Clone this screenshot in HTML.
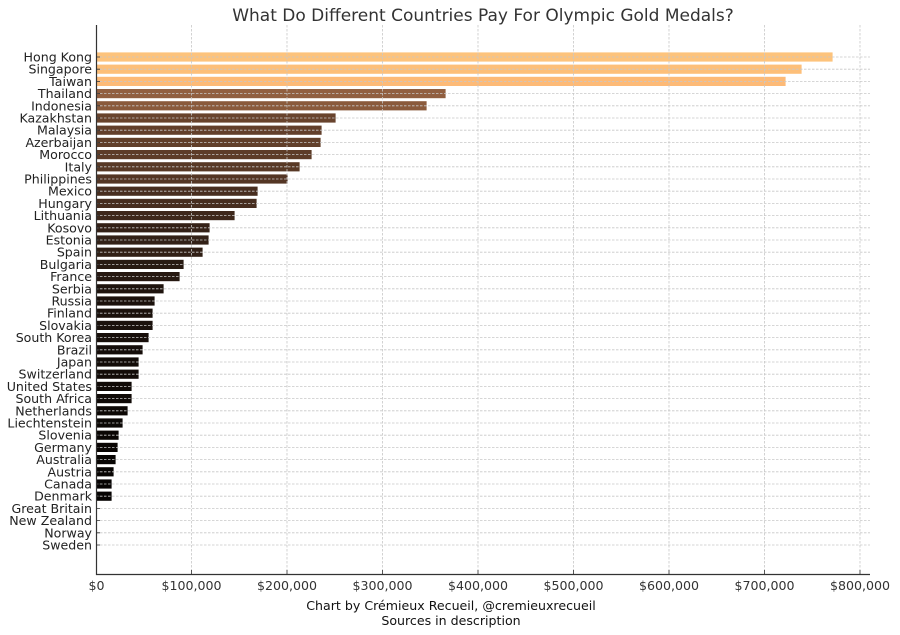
<!DOCTYPE html>
<html><head><meta charset="utf-8"><style>
html,body{margin:0;padding:0;background:#fff}
svg{display:block;font-family:"DejaVu Sans","Liberation Sans",sans-serif}
</style></head><body>
<svg width="900" height="635" viewBox="0 0 900 635">
<rect width="900" height="635" fill="#fff"/>
<text x="483" y="21" font-size="17" fill="#333" text-anchor="middle">What Do Different Countries Pay For Olympic Gold Medals?</text>
<g stroke="#fff" stroke-width="0.8">
<rect x="96" y="52" width="737" height="10" fill="rgb(253,195,124)"/>
<rect x="96" y="64.2" width="706" height="10" fill="rgb(253,191,121)"/>
<rect x="96" y="76.4" width="690" height="10" fill="rgb(253,186,119)"/>
<rect x="96" y="88.6" width="350" height="10" fill="rgb(145,95,64)"/>
<rect x="96" y="100.8" width="331" height="10" fill="rgb(138,90,60)"/>
<rect x="96" y="113" width="240" height="10" fill="rgb(104,67,45)"/>
<rect x="96" y="125.2" width="226" height="10" fill="rgb(98,63,43)"/>
<rect x="96" y="137.4" width="225" height="10" fill="rgb(97,63,42)"/>
<rect x="96" y="149.6" width="216" height="10" fill="rgb(93,60,40)"/>
<rect x="96" y="161.8" width="204" height="10" fill="rgb(88,57,38)"/>
<rect x="96" y="174" width="192" height="10" fill="rgb(84,54,37)"/>
<rect x="96" y="186.2" width="162" height="10" fill="rgb(72,46,32)"/>
<rect x="96" y="198.4" width="161" height="10" fill="rgb(71,46,32)"/>
<rect x="96" y="210.6" width="139" height="10" fill="rgb(62,40,28)"/>
<rect x="96" y="222.8" width="114" height="10" fill="rgb(52,33,23)"/>
<rect x="96" y="235" width="113" height="10" fill="rgb(51,33,23)"/>
<rect x="96" y="247.2" width="107" height="10" fill="rgb(48,31,21)"/>
<rect x="96" y="259.4" width="88" height="10" fill="rgb(40,26,18)"/>
<rect x="96" y="271.6" width="84" height="10" fill="rgb(38,24,17)"/>
<rect x="96" y="283.8" width="68" height="10" fill="rgb(31,20,14)"/>
<rect x="96" y="296" width="59" height="10" fill="rgb(27,17,12)"/>
<rect x="96" y="308.2" width="57" height="10" fill="rgb(26,17,12)"/>
<rect x="96" y="320.4" width="57" height="10" fill="rgb(26,17,12)"/>
<rect x="96" y="332.6" width="53" height="10" fill="rgb(24,15,10)"/>
<rect x="96" y="344.8" width="47" height="10" fill="rgb(21,13,9)"/>
<rect x="96" y="357" width="43" height="10" fill="rgb(19,12,8)"/>
<rect x="96" y="369.2" width="43" height="10" fill="rgb(19,12,8)"/>
<rect x="96" y="381.4" width="36" height="10" fill="rgb(16,10,7)"/>
<rect x="96" y="393.6" width="36" height="10" fill="rgb(16,10,7)"/>
<rect x="96" y="405.8" width="32" height="10" fill="rgb(14,9,6)"/>
<rect x="96" y="418" width="27" height="10" fill="rgb(12,8,5)"/>
<rect x="96" y="430.2" width="23" height="10" fill="rgb(10,6,4)"/>
<rect x="96" y="442.4" width="22" height="10" fill="rgb(10,6,4)"/>
<rect x="96" y="454.6" width="20" height="10" fill="rgb(9,6,4)"/>
<rect x="96" y="466.8" width="18" height="10" fill="rgb(8,5,3)"/>
<rect x="96" y="479" width="16" height="10" fill="rgb(7,4,3)"/>
<rect x="96" y="491.2" width="16" height="10" fill="rgb(7,4,3)"/>
</g>
<g stroke="#c8c8c8" stroke-width="0.8" stroke-dasharray="2.5,1.5" fill="none">
<path d="M191.5 25V574M287 25V574M382.5 25V574M478 25V574M573.5 25V574M669 25V574M764.5 25V574M860 25V574"/>
<path d="M96 57H870M96 69.2H870M96 81.4H870M96 93.6H870M96 105.8H870M96 118H870M96 130.2H870M96 142.4H870M96 154.6H870M96 166.8H870M96 179H870M96 191.2H870M96 203.4H870M96 215.6H870M96 227.8H870M96 240H870M96 252.2H870M96 264.4H870M96 276.6H870M96 288.8H870M96 301H870M96 313.2H870M96 325.4H870M96 337.6H870M96 349.8H870M96 362H870M96 374.2H870M96 386.4H870M96 398.6H870M96 410.8H870M96 423H870M96 435.2H870M96 447.4H870M96 459.6H870M96 471.8H870M96 484H870M96 496.2H870M96 508.4H870M96 520.6H870M96 532.8H870M96 545H870"/>
</g>
<g stroke="#333" stroke-width="1.2" fill="none">
<path d="M96.5 25V574.5H870"/>
</g>
<g stroke="#333" stroke-width="0.8">
<path d="M96 57h4M96 69.2h4M96 81.4h4M96 93.6h4M96 105.8h4M96 118h4M96 130.2h4M96 142.4h4M96 154.6h4M96 166.8h4M96 179h4M96 191.2h4M96 203.4h4M96 215.6h4M96 227.8h4M96 240h4M96 252.2h4M96 264.4h4M96 276.6h4M96 288.8h4M96 301h4M96 313.2h4M96 325.4h4M96 337.6h4M96 349.8h4M96 362h4M96 374.2h4M96 386.4h4M96 398.6h4M96 410.8h4M96 423h4M96 435.2h4M96 447.4h4M96 459.6h4M96 471.8h4M96 484h4M96 496.2h4M96 508.4h4M96 520.6h4M96 532.8h4M96 545h4"/>
<path d="M96.5 574v-4M191.5 574v-4M287 574v-4M382.5 574v-4M478 574v-4M573.5 574v-4M669 574v-4M764.5 574v-4M860 574v-4"/>
</g>
<g font-size="12.6" fill="#222" text-anchor="end">
<text x="92" y="61.5">Hong Kong</text>
<text x="92" y="73.7">Singapore</text>
<text x="92" y="85.9">Taiwan</text>
<text x="92" y="98.1">Thailand</text>
<text x="92" y="110.3">Indonesia</text>
<text x="92" y="122.5">Kazakhstan</text>
<text x="92" y="134.7">Malaysia</text>
<text x="92" y="146.9">Azerbaijan</text>
<text x="92" y="159.1">Morocco</text>
<text x="92" y="171.3">Italy</text>
<text x="92" y="183.5">Philippines</text>
<text x="92" y="195.7">Mexico</text>
<text x="92" y="207.9">Hungary</text>
<text x="92" y="220.1">Lithuania</text>
<text x="92" y="232.3">Kosovo</text>
<text x="92" y="244.5">Estonia</text>
<text x="92" y="256.7">Spain</text>
<text x="92" y="268.9">Bulgaria</text>
<text x="92" y="281.1">France</text>
<text x="92" y="293.3">Serbia</text>
<text x="92" y="305.5">Russia</text>
<text x="92" y="317.7">Finland</text>
<text x="92" y="329.9">Slovakia</text>
<text x="92" y="342.1">South Korea</text>
<text x="92" y="354.3">Brazil</text>
<text x="92" y="366.5">Japan</text>
<text x="92" y="378.7">Switzerland</text>
<text x="92" y="390.9">United States</text>
<text x="92" y="403.1">South Africa</text>
<text x="92" y="415.3">Netherlands</text>
<text x="92" y="427.5">Liechtenstein</text>
<text x="92" y="439.7">Slovenia</text>
<text x="92" y="451.9">Germany</text>
<text x="92" y="464.1">Australia</text>
<text x="92" y="476.3">Austria</text>
<text x="92" y="488.5">Canada</text>
<text x="92" y="500.7">Denmark</text>
<text x="92" y="512.9">Great Britain</text>
<text x="92" y="525.1">New Zealand</text>
<text x="92" y="537.3">Norway</text>
<text x="92" y="549.5">Sweden</text>
</g>
<g font-size="12.6" fill="#333" text-anchor="middle">
<text x="96.5" y="590">$0</text>
<text x="191.5" y="590">$100,000</text>
<text x="287" y="590">$200,000</text>
<text x="382.5" y="590">$300,000</text>
<text x="478" y="590">$400,000</text>
<text x="573.5" y="590">$500,000</text>
<text x="669" y="590">$600,000</text>
<text x="764.5" y="590">$700,000</text>
<text x="860" y="590">$800,000</text>
</g>
<g font-size="12.6" fill="#111" text-anchor="middle">
<text x="451" y="610">Chart by Crémieux Recueil, @cremieuxrecueil</text>
<text x="451" y="625">Sources in description</text>
</g>
</svg>
</body></html>
